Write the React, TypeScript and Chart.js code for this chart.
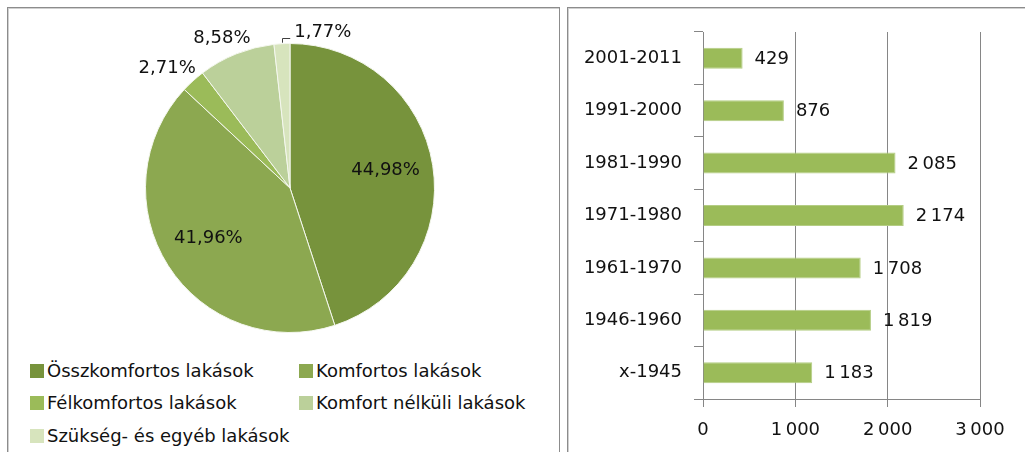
import React, { useEffect, useRef } from "react";
import { Chart, registerables } from "chart.js";

Chart.register(...registerables);

const FONT = "DejaVu Sans";
const TEXT = "#111111";

// Pie data
const pieCategories = [
  "Összkomfortos lakások",
  "Komfortos lakások",
  "Félkomfortos lakások",
  "Komfort nélküli lakások",
  "Szükség- és egyéb lakások",
];
const pieValues = [44.98, 41.96, 2.71, 8.58, 1.77];
const pieColors = ["#77933c", "#8ca850", "#9bbb59", "#bbd09a", "#d7e4bd"];
// label style: inside or outside, extra shift for crowded labels
const pieInside = [true, true, false, false, false];
const pieShiftX = [0, 0, 0, 0, 43];
const pieShiftY = [0, 0, 0, 0, 6];

// Bar data
const barCategories = [
  "2001-2011",
  "1991-2000",
  "1981-1990",
  "1971-1980",
  "1961-1970",
  "1946-1960",
  "x-1945",
];
const barValues = [429, 876, 2085, 2174, 1708, 1819, 1183];
const xTickValues = [0, 1000, 2000, 3000];
const xTickLabels = ["0", "1\u2009000", "2\u2009000", "3\u2009000"];

const fmtThousands = (v: number) =>
  String(v).replace(/\B(?=(\d{3})+(?!\d))/g, "\u2009");
const fmtPct = (v: number) => v.toFixed(2).replace(".", ",") + "%";

const pieLabelPlugin = {
  id: "pieLabels",
  afterDatasetsDraw(chart: any) {
    const ctx = chart.ctx;
    const meta = chart.getDatasetMeta(0);
    ctx.save();
    ctx.font = `18px "${FONT}"`;
    ctx.fillStyle = TEXT;
    ctx.textAlign = "center";
    ctx.textBaseline = "middle";
    meta.data.forEach((arc: any, i: number) => {
      const p = arc.getProps(["x", "y", "startAngle", "endAngle", "outerRadius"], true);
      const mid = (p.startAngle + p.endAngle) / 2;
      const c = Math.cos(mid);
      const s = Math.sin(mid);
      const text = fmtPct(pieValues[i]);
      if (pieInside[i]) {
        const r = p.outerRadius * 0.67;
        ctx.fillText(text, p.x + c * r, p.y + s * r - 2);
      } else {
        const w = ctx.measureText(text).width;
        const h = 14;
        const R = p.outerRadius + 10;
        let cx = p.x + c * R + (c * w) / 2;
        let cy = p.y + s * R + (s * h) / 2;
        cx += pieShiftX[i];
        cy += pieShiftY[i];
        if (pieShiftX[i] !== 0) {
          const ox = p.x + c * (p.outerRadius + 1);
          const oy = p.y + s * (p.outerRadius + 1);
          ctx.save();
          ctx.strokeStyle = "#404040";
          ctx.lineWidth = 1;
          ctx.beginPath();
          ctx.moveTo(Math.round(ox) + 0.5, oy);
          ctx.lineTo(Math.round(ox) + 0.5, Math.round(cy + 5) + 0.5);
          ctx.lineTo(cx - w / 2 - 4, Math.round(cy + 5) + 0.5);
          ctx.stroke();
          ctx.restore();
        }
        ctx.fillText(text, cx, cy);
      }
    });
    ctx.restore();
  },
};

const barLabelPlugin = {
  id: "barLabels",
  afterDatasetsDraw(chart: any) {
    const ctx = chart.ctx;
    const meta = chart.getDatasetMeta(0);
    ctx.save();
    ctx.font = `18px "${FONT}"`;
    ctx.fillStyle = TEXT;
    ctx.textAlign = "left";
    ctx.textBaseline = "middle";
    meta.data.forEach((bar: any, i: number) => {
      const p = bar.getProps(["x", "y"], true);
      ctx.fillText(fmtThousands(barValues[i]), p.x + 12, p.y + 1);
    });
    ctx.restore();
  },
};

function PieChart() {
  const ref = useRef<HTMLCanvasElement>(null);
  useEffect(() => {
    const chart = new Chart(ref.current as HTMLCanvasElement, {
      type: "pie",
      data: {
        labels: pieCategories,
        datasets: [
          {
            data: pieValues,
            backgroundColor: pieColors,
            borderColor: "#f4f7ee",
            borderWidth: 1,
          },
        ],
      },
      options: {
        responsive: false,
        animation: false,
        layout: { padding: { left: 55, right: 55, top: 35, bottom: 15 } },
        plugins: {
          legend: { display: false },
          tooltip: { enabled: false },
          title: { display: false },
        },
      },
      plugins: [pieLabelPlugin],
    });
    return () => chart.destroy();
  }, []);
  return (
    <canvas
      ref={ref}
      width={400}
      height={340}
      style={{ position: "absolute", left: 90, top: 8, width: 400, height: 340 }}
    />
  );
}

function BarChart() {
  const ref = useRef<HTMLCanvasElement>(null);
  useEffect(() => {
    const chart = new Chart(ref.current as HTMLCanvasElement, {
      type: "bar",
      data: {
        labels: barCategories,
        datasets: [
          {
            data: barValues,
            backgroundColor: "#9bbb59",
            borderColor: "#b4cd84",
            borderWidth: 1,
            barPercentage: 0.4,
            categoryPercentage: 1,
          },
        ],
      },
      options: {
        indexAxis: "y",
        responsive: false,
        animation: false,
        layout: { padding: { left: 0, right: 45, top: 24, bottom: 0 } },
        plugins: {
          legend: { display: false },
          tooltip: { enabled: false },
        },
        scales: {
          x: {
            min: 0,
            max: 3000,
            afterFit: (s: any) => {
              s.height = 53;
            },
            afterBuildTicks: (s: any) => {
              s.ticks = xTickValues.map((v) => ({ value: v }));
            },
            ticks: {
              font: { family: FONT, size: 18 },
              color: TEXT,
              padding: 13,
              callback: (v: any) => {
                const i = xTickValues.indexOf(Number(v));
                return i >= 0 ? xTickLabels[i] : "";
              },
            },
            grid: { color: "#868686", tickLength: 8, lineWidth: 1 },
            border: { display: true, color: "#868686" },
          },
          y: {
            afterFit: (s: any) => {
              s.width = 134;
            },
            ticks: {
              font: { family: FONT, size: 18 },
              color: TEXT,
              padding: 12,
            },
            grid: {
              drawOnChartArea: false,
              drawTicks: true,
              tickLength: 9,
              color: "#868686",
            },
            border: { display: true, color: "#868686" },
          },
        },
      },
      plugins: [barLabelPlugin],
    });
    return () => chart.destroy();
  }, []);
  return (
    <canvas
      ref={ref}
      width={456}
      height={444}
      style={{ position: "absolute", left: 569, top: 8, width: 456, height: 444 }}
    />
  );
}

const legendPos = [
  { left: 30, top: 363 },
  { left: 299, top: 363 },
  { left: 30, top: 395 },
  { left: 299, top: 395 },
  { left: 30, top: 428 },
];

export default function App() {
  return (
    <div
      style={{
        position: "absolute",
        left: 0,
        top: 0,
        width: 1025,
        height: 452,
        overflow: "hidden",
        background: "#fff",
        fontFamily: FONT,
      }}
    >
      <div
        style={{
          position: "absolute",
          left: 7,
          top: 7,
          width: 553,
          height: 460,
          border: "1px solid #8c8c8c",
          boxShadow: "inset 1px 1px 0 #d0d0d0",
          boxSizing: "border-box",
        }}
      />
      <div
        style={{
          position: "absolute",
          left: 567,
          top: 7,
          width: 470,
          height: 460,
          border: "1px solid #8c8c8c",
          boxShadow: "inset 1px 1px 0 #d0d0d0",
          boxSizing: "border-box",
        }}
      />
      <PieChart />
      <BarChart />
      {pieCategories.map((name, i) => (
        <div
          key={name}
          style={{
            position: "absolute",
            left: legendPos[i].left,
            top: legendPos[i].top,
            height: 15,
            display: "flex",
            alignItems: "center",
            whiteSpace: "nowrap",
            fontSize: 18,
            color: TEXT,
          }}
        >
          <span
            style={{
              display: "inline-block",
              width: 14,
              height: 14,
              background: pieColors[i],
              marginRight: 3,
            }}
          />
          <span style={{ lineHeight: "15px" }}>{name}</span>
        </div>
      ))}
    </div>
  );
}
